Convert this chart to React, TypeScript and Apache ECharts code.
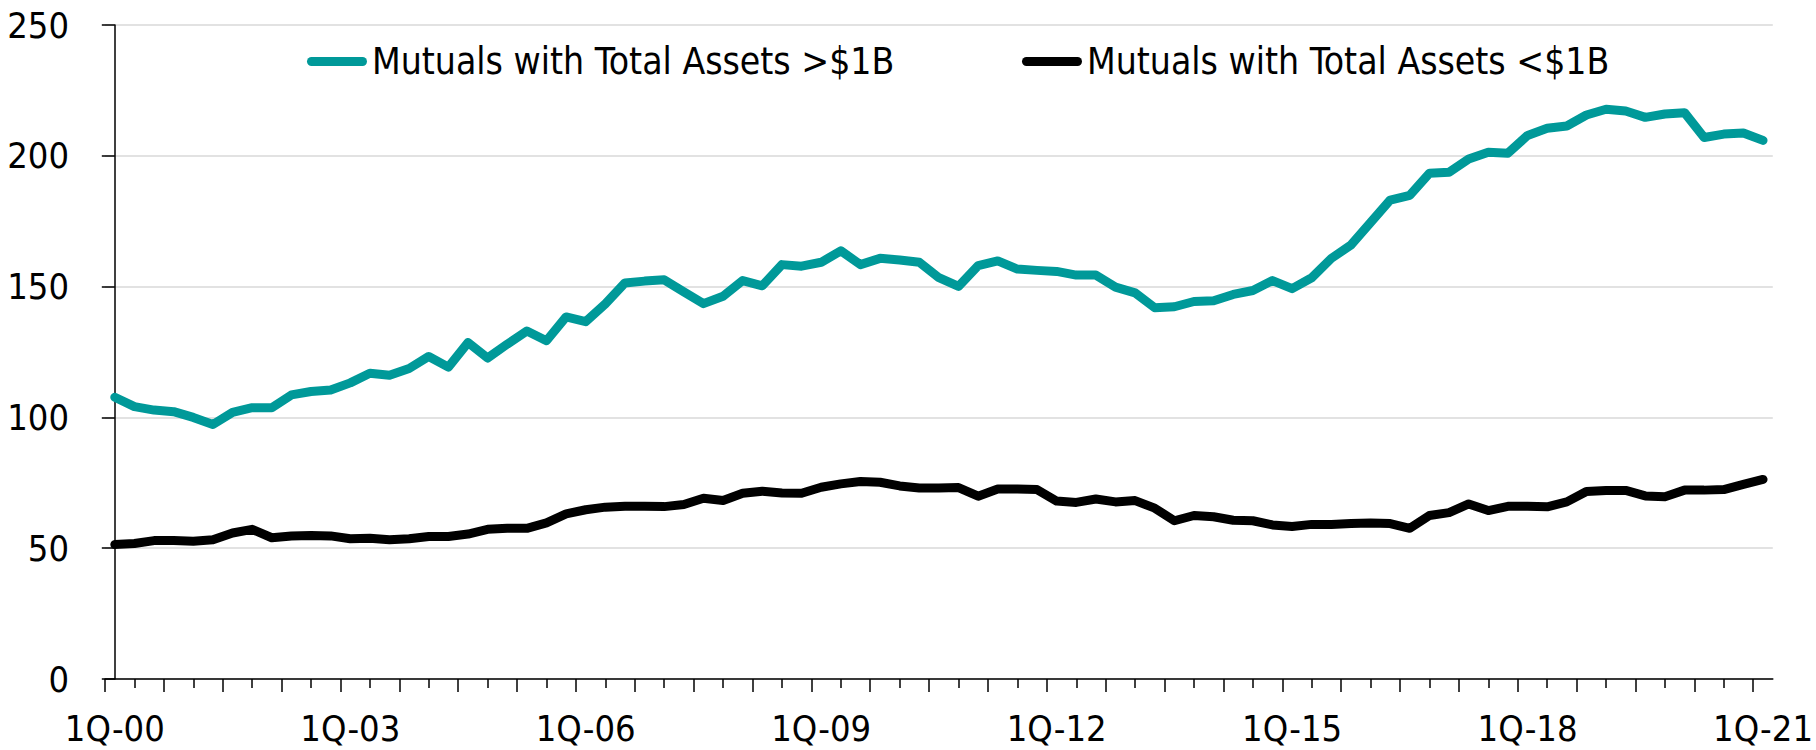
import React, { useEffect, useRef } from "react";
import * as echarts from "echarts";

const quarterNames = ["1Q", "2Q", "3Q", "4Q"];
const yearNames = [
  "00", "01", "02", "03", "04", "05", "06", "07", "08", "09", "10",
  "11", "12", "13", "14", "15", "16", "17", "18", "19", "20", "21",
];
const categories: string[] = [];
yearNames.forEach((y) => quarterNames.forEach((q) => categories.push(`${q}-${y}`)));
categories.splice(categories.indexOf("1Q-21") + 1);

const seriesNames = ["Mutuals with Total Assets >$1B", "Mutuals with Total Assets <$1B"];

const largeMutuals = [
  107.7, 104.1, 102.8, 102.2, 100.0, 97.3, 101.9, 103.7, 103.7, 108.6,
  109.9, 110.5, 113.2, 116.9, 116.1, 118.7, 123.3, 119.2, 128.6, 122.7,
  128.0, 133.0, 129.3, 138.4, 136.6, 143.4, 151.4, 152.1, 152.6, 148.0,
  143.5, 146.3, 152.3, 150.3, 158.4, 157.8, 159.3, 163.7, 158.4, 160.8,
  160.2, 159.3, 153.4, 150.1, 158.0, 159.8, 156.7, 156.2, 155.8, 154.4,
  154.4, 149.8, 147.6, 141.9, 142.3, 144.3, 144.6, 147.0, 148.5, 152.3,
  149.2, 153.4, 160.8, 165.9, 174.5, 183.1, 184.9, 193.3, 193.7, 198.8,
  201.4, 201.0, 207.8, 210.5, 211.4, 215.6, 217.8, 217.1, 214.7, 216.0,
  216.5, 207.0, 208.3, 208.7, 205.9,
];

const smallMutuals = [
  51.4, 51.8, 52.9, 52.9, 52.7, 53.2, 55.8, 57.2, 54.0, 54.7,
  54.9, 54.7, 53.6, 53.8, 53.2, 53.6, 54.5, 54.5, 55.4, 57.2,
  57.6, 57.6, 59.7, 63.1, 64.7, 65.7, 66.0, 66.0, 65.9, 66.7,
  69.1, 68.2, 71.0, 71.8, 71.1, 71.0, 73.3, 74.6, 75.5, 75.2,
  73.8, 73.0, 73.0, 73.2, 69.9, 72.6, 72.6, 72.4, 68.0, 67.5,
  68.8, 67.7, 68.2, 65.3, 60.5, 62.5, 62.0, 60.7, 60.5, 58.9,
  58.3, 59.1, 59.1, 59.4, 59.6, 59.4, 57.6, 62.5, 63.6, 66.9,
  64.4, 66.0, 66.0, 65.8, 67.7, 71.7, 72.1, 72.1, 70.0, 69.7,
  72.2, 72.2, 72.4, 74.4, 76.3,
];

const yMin = 0;
const yMax = 250;
const yStep = 50;

const TEAL = "#009999";
const BLACK = "#000000";
const FONT = "'DejaVu Sans Condensed', 'Liberation Sans', sans-serif";

// tick positions on the category scale (boundaries every 3 quarters, minor halfway)
const majorTickPos: number[] = [];
for (let v = -0.5; v <= categories.length - 1; v += 3) majorTickPos.push(v);
const minorTickPos: number[] = [];
for (let v = 1; v <= categories.length - 1; v += 3) minorTickPos.push(v);

const legendIcon = "path://M4.5 0H55.5A4.5 4.5 0 0 1 55.5 9H4.5A4.5 4.5 0 0 1 4.5 0Z";

export default function App() {
  const ref = useRef<HTMLDivElement>(null);

  useEffect(() => {
    document.body.style.margin = "0";
    if (!ref.current) return;
    const chart = echarts.init(ref.current, undefined, { renderer: "svg" });

    const tickAxisBase = {
      type: "value" as const,
      gridIndex: 0,
      position: "bottom" as const,
      min: -0.5,
      max: categories.length - 0.5,
      axisLine: { show: false },
      axisLabel: { show: false },
      splitLine: { show: false },
    };

    const legendBase = {
      top: 43,
      padding: 0,
      itemWidth: 60,
      itemHeight: 9,
      icon: legendIcon,
      selectedMode: false,
      textStyle: { fontSize: 37, color: "#000", fontFamily: FONT },
    };

    chart.setOption({
      animation: false,
      backgroundColor: "#ffffff",
      textStyle: { fontFamily: FONT },
      grid: { left: 105, right: 43, top: 25, bottom: 71, containLabel: false },
      legend: [
        {
          ...legendBase,
          left: 307,
          data: [{ name: seriesNames[0], itemStyle: { color: TEAL } }],
        },
        {
          ...legendBase,
          left: 1022,
          data: [{ name: seriesNames[1], itemStyle: { color: BLACK } }],
        },
      ],
      xAxis: [
        {
          type: "category",
          data: categories,
          boundaryGap: true,
          axisLine: { show: true, lineStyle: { color: "#000", width: 1.5 } },
          axisTick: { show: false },
          axisLabel: {
            interval: 11,
            fontSize: 36,
            color: "#000",
            margin: 31,
            fontFamily: FONT,
          },
          splitLine: { show: false },
        },
        {
          ...tickAxisBase,
          axisTick: {
            show: true,
            length: 13,
            customValues: majorTickPos,
            lineStyle: { color: "#000", width: 1.5 },
          },
        },
        {
          ...tickAxisBase,
          axisTick: {
            show: true,
            length: 9,
            customValues: minorTickPos,
            lineStyle: { color: "#000", width: 1.5 },
          },
        },
      ],
      yAxis: {
        type: "value",
        min: yMin,
        max: yMax,
        interval: yStep,
        axisLine: { show: true, lineStyle: { color: "#000", width: 1.5 } },
        axisTick: { show: true, length: 13, lineStyle: { color: "#000", width: 1.5 } },
        axisLabel: { fontSize: 36, color: "#000", margin: 36, fontFamily: FONT },
        splitLine: { show: true, lineStyle: { color: "#d9d9d9", width: 1.5 } },
      },
      series: [
        {
          name: seriesNames[0],
          type: "line",
          data: largeMutuals,
          symbol: "none",
          lineStyle: { color: TEAL, width: 9, cap: "round", join: "round" },
          itemStyle: { color: TEAL },
          emphasis: { disabled: true },
        },
        {
          name: seriesNames[1],
          type: "line",
          data: smallMutuals,
          symbol: "none",
          lineStyle: { color: BLACK, width: 9, cap: "round", join: "round" },
          itemStyle: { color: BLACK },
          emphasis: { disabled: true },
        },
      ],
    });

    return () => chart.dispose();
  }, []);

  return <div ref={ref} style={{ width: 1816, height: 750 }} />;
}
